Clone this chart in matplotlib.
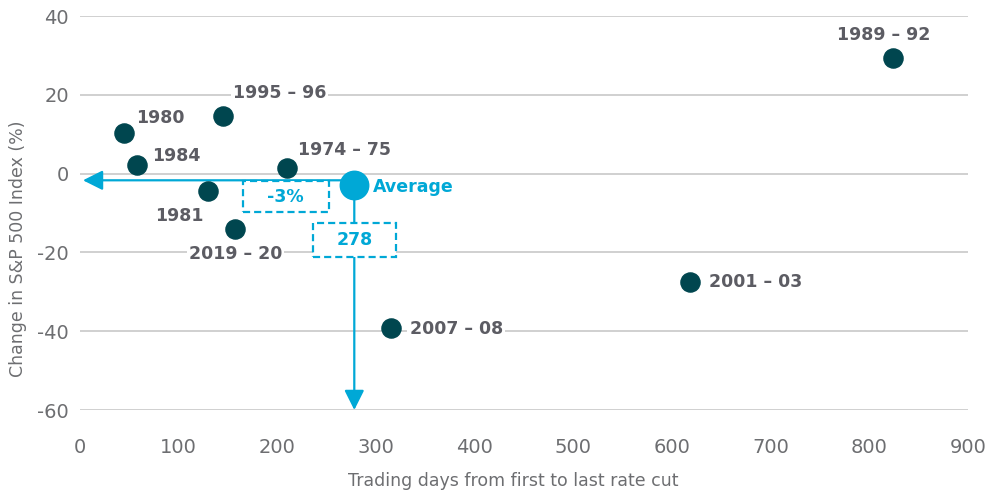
import matplotlib
matplotlib.use('Agg')
import matplotlib.pyplot as plt
from matplotlib.patches import FancyArrowPatch, Rectangle

plt.rcParams['axes.unicode_minus'] = False

# rate cut cycles: trading days vs S&P 500 change (%)
cycles = ['1980', '1984', '1995 – 96', '1974 – 75', '1981', '2019 – 20',
          '2007 – 08', '2001 – 03', '1989 – 92']
days = [45, 58, 145, 210, 130, 157, 315, 618, 824]
change = [10.3, 2.2, 14.6, 1.4, -4.4, -14.1, -39.2, -27.5, 29.3]

avg_days = 278
avg_change = -3

x_ticks = [0, 100, 200, 300, 400, 500, 600, 700, 800, 900]
y_ticks = [-60, -40, -20, 0, 20, 40]

# label positions (days, pct) and alignment for each cycle
label_pos = {
    '1980': (57, 14.1, 'left'),
    '1984': (73, 4.5, 'left'),
    '1995 – 96': (155, 20.5, 'left'),
    '1974 – 75': (221, 6.0, 'left'),
    '1981': (125, -10.8, 'right'),
    '2019 – 20': (205, -20.5, 'right'),
    '2007 – 08': (334, -39.5, 'left'),
    '2001 – 03': (637, -27.5, 'left'),
    '1989 – 92': (815, 35.2, 'center'),
}

dark = '#00464f'
cyan = '#00a8d6'
grey_txt = '#5c5c63'
tick_col = '#6d6e71'

fig = plt.figure(figsize=(9.9, 4.91), dpi=100)
ax = fig.add_axes([80 / 990, 1 - 410 / 491, 888 / 990, 394 / 491])

ax.set_xlim(0, 900)
ax.set_ylim(-60, 40)
ax.set_xticks(x_ticks)
ax.set_yticks(y_ticks)
ax.grid(axis='y', color='#d0d0d0', linewidth=1.4, zorder=0)
ax.set_axisbelow(True)
for s in ax.spines.values():
    s.set_visible(False)
ax.tick_params(length=0, labelsize=14, labelcolor=tick_col)
ax.tick_params(axis='x', pad=20)
ax.tick_params(axis='y', pad=8)

ax.scatter(days, change, s=190, color=dark, zorder=4, clip_on=False)

for name, d, c in zip(cycles, days, change):
    lx, ly, ha = label_pos[name]
    ax.text(lx, ly, name, ha=ha, va='center', fontsize=12.5, fontweight='bold',
            color=grey_txt, zorder=3,
            bbox=dict(fc='white', ec='none', pad=1.5))

# average arrows
style = '-|>,head_length=0.6,head_width=0.3'
arr_h = FancyArrowPatch((avg_days, -1.7), (3, -1.7), arrowstyle=style,
                        mutation_scale=20, color=cyan, lw=1.6, zorder=2, shrinkA=0, shrinkB=0)
ax.add_patch(arr_h)
arr_v = FancyArrowPatch((avg_days, avg_change), (avg_days, -60), arrowstyle=style,
                        mutation_scale=20, color=cyan, lw=1.6, zorder=2, shrinkA=0, shrinkB=0,
                        clip_on=False)
ax.add_patch(arr_v)

ax.scatter([avg_days], [avg_change], s=420, color=cyan, zorder=5)
ax.text(avg_days + 19, avg_change - 0.4, 'Average', ha='left', va='center', fontsize=12.5,
        fontweight='bold', color=cyan, zorder=5)

# dashed boxes with the average values
dash = (0, (3.2, 1.8))
ax.add_patch(Rectangle((165, -9.7), 87, 7.8, fc='white', ec=cyan, lw=1.6, ls=dash, zorder=3))
ax.text(208.5, -5.9, '%d%%' % avg_change, ha='center', va='center', fontsize=12.5,
        fontweight='bold', color=cyan, zorder=3)
ax.add_patch(Rectangle((236, -21.2), 84, 8.7, fc='white', ec=cyan, lw=1.6, ls=dash, zorder=3))
ax.text(avg_days, -16.9, str(avg_days), ha='center', va='center', fontsize=12.5,
        fontweight='bold', color=cyan, zorder=3)

fig.text(513 / 990, 1 - 481 / 491, 'Trading days from first to last rate cut', ha='center',
         va='center', fontsize=12.5, color=tick_col)
fig.text(18 / 990, 1 - 249 / 491, 'Change in S&P 500 Index (%)', ha='center', va='center',
         rotation=90, fontsize=12.5, color=tick_col)

fig.savefig('out.png', dpi=100)
